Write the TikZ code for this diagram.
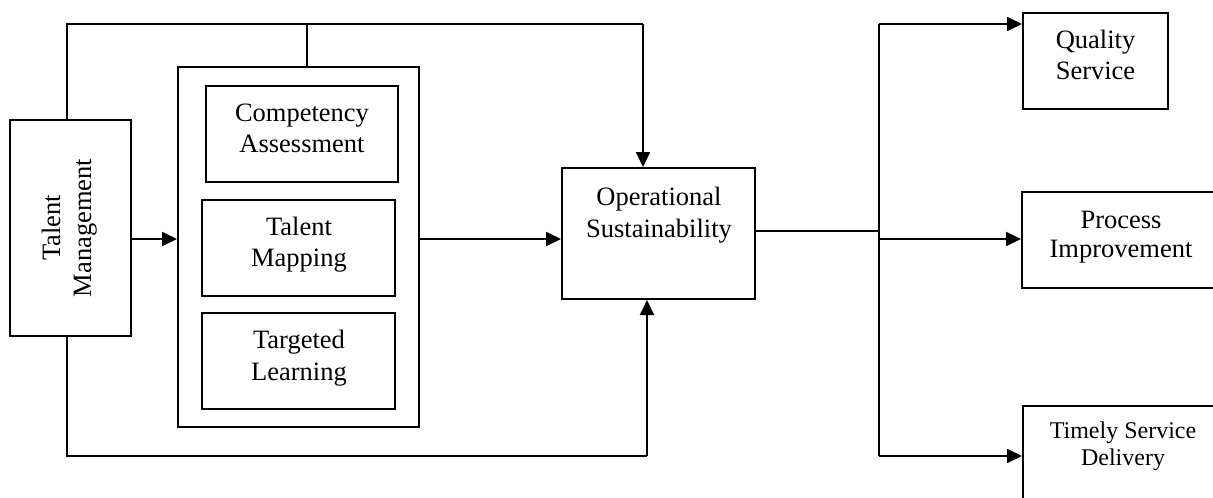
\documentclass[tikz,border=0pt]{standalone}
\usepackage{fontspec}
\setmainfont{Liberation Serif}
\usetikzlibrary{arrows.meta}
\tikzset{
  box/.style={draw, line width=2pt, inner sep=0pt, rectangle},
  txt/.style={align=center, anchor=base, inner sep=0pt, font=\fontsize{26.5}{31}\selectfont},
  line/.style={line width=2pt},
  arr/.style={line width=2pt, -{Triangle[length=15pt,width=14pt]}}
}
\begin{document}
\begin{tikzpicture}[x=1pt,y=-1pt]
\useasboundingbox (0,0) rectangle (1213,498);
\clip (0,0) rectangle (1213,498);
% boxes
\node[box, minimum width=121pt, minimum height=216pt] (tm) at (70.5,228) {};
\node[box, minimum width=241pt, minimum height=360pt] (grp) at (298.5,247) {};
\node[box, minimum width=192pt, minimum height=96pt] (ca) at (302,134) {};
\node[box, minimum width=193pt, minimum height=96pt] (tmap) at (298.5,248) {};
\node[box, minimum width=193pt, minimum height=96pt] (tl) at (298.5,361) {};
\node[box, minimum width=193pt, minimum height=131pt] (os) at (658.5,233.5) {};
\node[box, minimum width=145pt, minimum height=96pt] (qs) at (1095.5,61) {};
\node[box, minimum width=198pt, minimum height=96pt] (pi) at (1121,240) {};
\node[box, minimum width=197pt, minimum height=104pt] (tsd) at (1121.5,458) {};
% texts (anchor base = baseline of the last line)
\node[txt, rotate=90] (tmt) at (91,228) {Talent\\Management};
\node[txt] (cat) at (302,152) {Competency\\Assessment};
\node[txt] (tmapt) at (299,266) {Talent\\Mapping};
\node[txt, font=\fontsize{26.5}{32}\selectfont] (tlt) at (299,380) {Targeted\\Learning};
\node[txt, font=\fontsize{26.5}{32}\selectfont] (ost) at (659,237) {Operational\\Sustainability};
\node[txt] (qst) at (1095.5,79) {Quality\\Service};
\node[txt, font=\fontsize{26.5}{29}\selectfont] (pit) at (1121,257) {Process\\Improvement};
\node[txt, font=\fontsize{24}{27}\selectfont] (tsdt) at (1123,465) {Timely Service\\Delivery};
% coordinates
\coordinate (a1) at (67,24);
\coordinate (a2) at (643,24);
\coordinate (a3) at (307,24);
\coordinate (b1) at (67,456);
\coordinate (b2) at (647,456);
\coordinate (m) at (0,239);
\coordinate (c) at (879,231);
\coordinate (d1) at (879,24);
\coordinate (d2) at (879,456);
\coordinate (d3) at (879,239);
% connectors
\draw[line] (tm.north -| a1) -- (a1) -- (a2);
\draw[arr] (a2) -- (a2 |- os.north);
\draw[line] (a3) -- (a3 |- grp.north);
\draw[line] (tm.south -| b1) -- (b1) -- (b2);
\draw[arr] (b2) -- (b2 |- os.south);
\draw[arr] (tm.east |- m) -- (grp.west |- m);
\draw[arr] (grp.east |- m) -- (os.west |- m);
\draw[line] (os.east |- c) -- (c);
\draw[line] (d1) -- (d2);
\draw[arr] (d1) -- (qs.west |- d1);
\draw[arr] (d3) -- (pi.west |- d3);
\draw[arr] (d2) -- (tsd.west |- d2);
\end{tikzpicture}
\end{document}
